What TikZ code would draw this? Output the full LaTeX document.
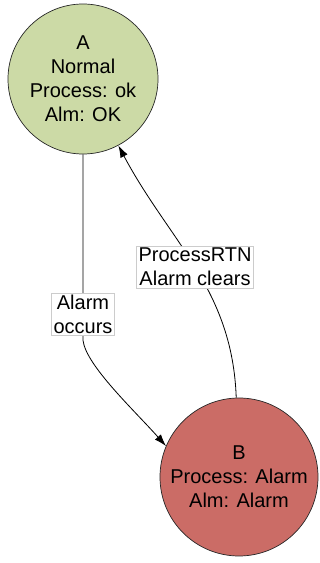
\documentclass[tikz,border=0pt]{standalone}
\usepackage{fontspec}
\setmainfont{Liberation Sans}
\usetikzlibrary{arrows.meta,positioning,calc}
\definecolor{okgreen}{RGB}{204,218,166}
\definecolor{alarmred}{RGB}{203,108,102}

\begin{document}
\begin{tikzpicture}[x=1pt, y=1pt,
    state/.style={circle, draw=black!85, line width=0.7pt, align=center, inner sep=0pt,
                  font=\fontsize{20}{24}\selectfont},
    lbl/.style={fill=white, draw=black!20, thin, align=center, inner sep=2pt,
                font=\fontsize{20}{24}\selectfont},
    trans/.style={line width=0.8pt, -{Latex[length=12pt, width=8pt]}}]
  %
  \useasboundingbox (0,0) rectangle (320,563);
  %
  \node[state, fill=okgreen, minimum size=150pt] (A) at (83,484)
    {A\\Normal\\Process: ok\\Alm: OK};
  \node[state, fill=alarmred, minimum size=158pt] (B) at (239,86)
    {B\\Process: Alarm\\Alm: Alarm};
  %
  \draw[trans] (A.south) -- node[lbl, pos=0.86] {Alarm\\occurs} ++(0,-186)
    .. controls +(3,-25) and +(-32,36) .. (B.157);
  \draw[trans] (B) to[out=92, in=-62]
    node[lbl, pos=0.5] {ProcessRTN\\Alarm clears} (A);
  %
\end{tikzpicture}
\end{document}
